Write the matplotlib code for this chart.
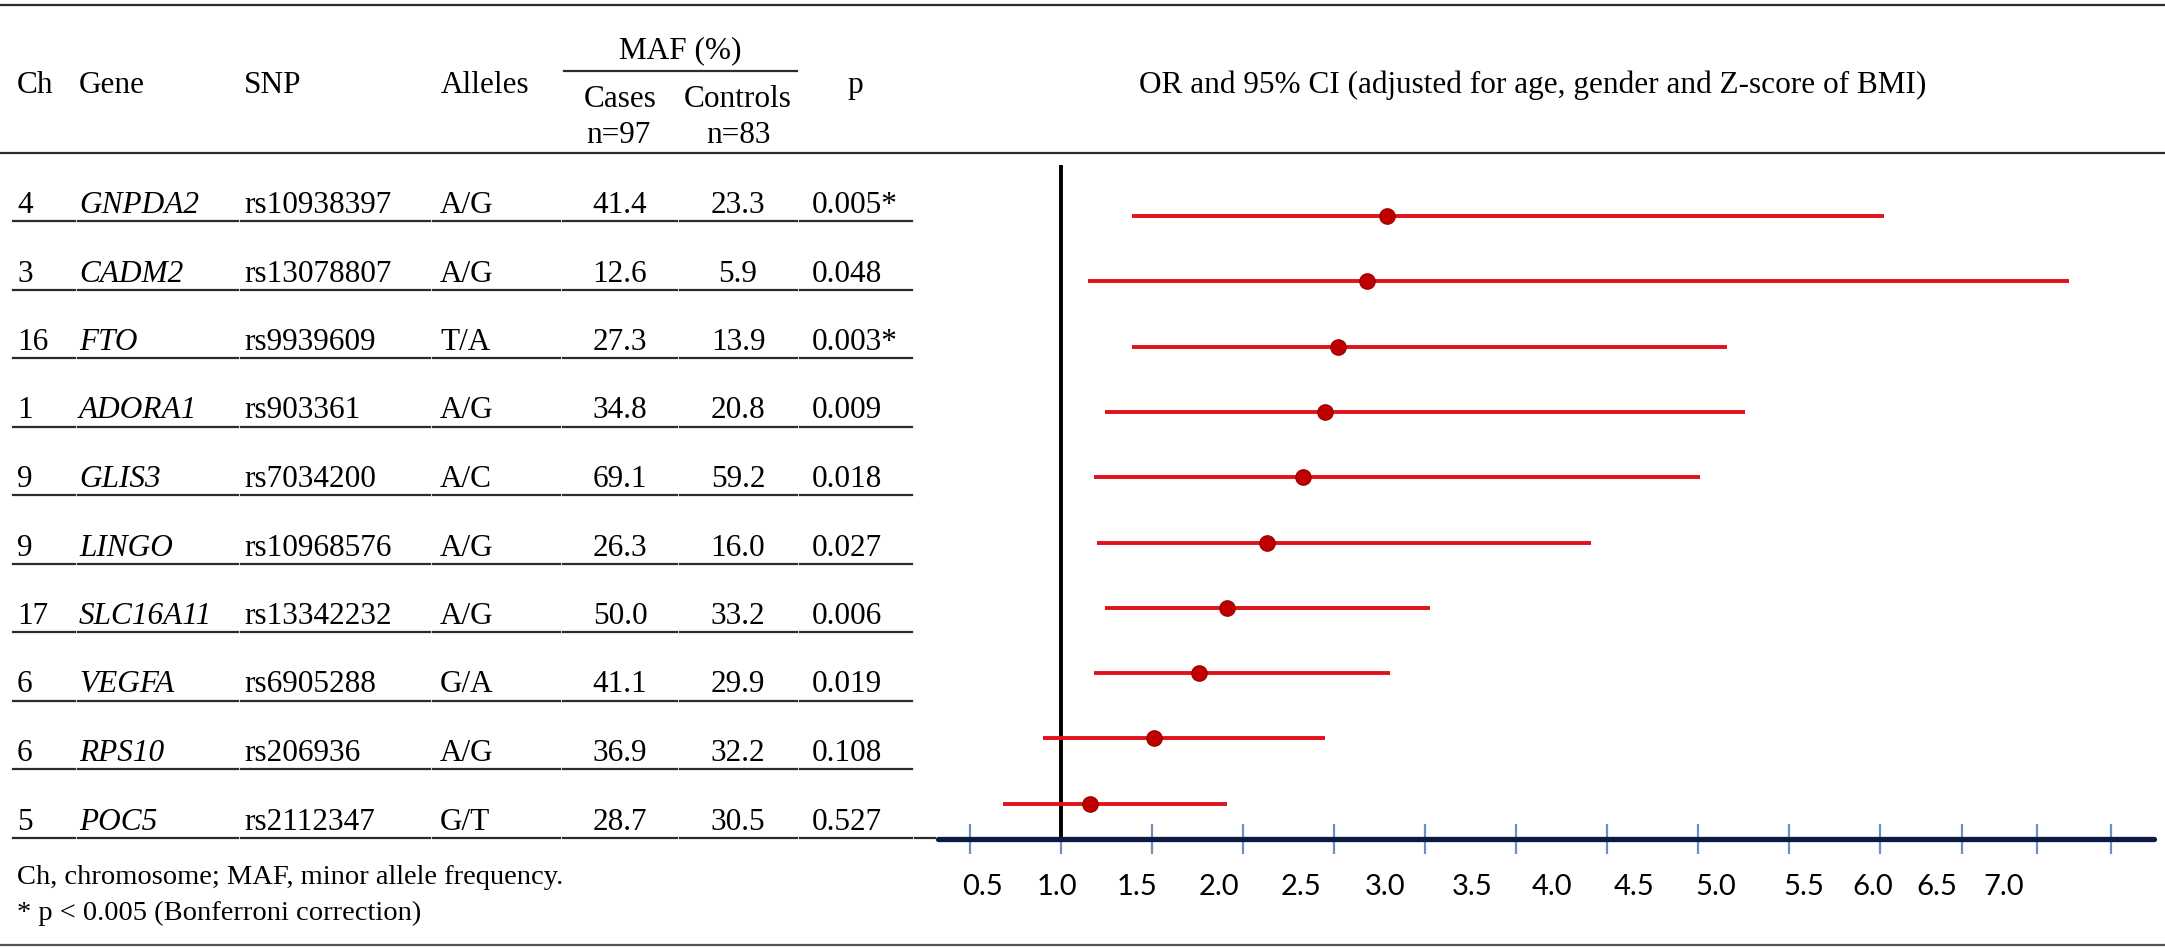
import matplotlib
matplotlib.use("Agg")
import matplotlib.pyplot as plt
from matplotlib.transforms import blended_transform_factory

# table data
chrom = ["4", "3", "16", "1", "9", "9", "17", "6", "6", "5"]
genes = ["GNPDA2", "CADM2", "FTO", "ADORA1", "GLIS3", "LINGO", "SLC16A11", "VEGFA", "RPS10", "POC5"]
snps = ["rs10938397", "rs13078807", "rs9939609", "rs903361", "rs7034200",
        "rs10968576", "rs13342232", "rs6905288", "rs206936", "rs2112347"]
alleles = ["A/G", "A/G", "T/A", "A/G", "A/C", "A/G", "A/G", "G/A", "A/G", "G/T"]
maf_cases = [41.4, 12.6, 27.3, 34.8, 69.1, 26.3, 50.0, 41.1, 36.9, 28.7]
maf_controls = [23.3, 5.9, 13.9, 20.8, 59.2, 16.0, 33.2, 29.9, 32.2, 30.5]
p_values = ["0.005*", "0.048", "0.003*", "0.009", "0.018", "0.027", "0.006", "0.019", "0.108", "0.527"]

# odds ratios and 95% CI
or_est = [2.79, 2.68, 2.52, 2.45, 2.33, 2.13, 1.91, 1.76, 1.51, 1.16]
ci_low = [1.39, 1.15, 1.39, 1.24, 1.18, 1.20, 1.24, 1.18, 0.90, 0.68]
ci_high = [5.52, 6.54, 4.66, 4.76, 4.51, 3.91, 3.03, 2.81, 2.45, 1.91]

tick_labels = ["0.5", "1.0", "1.5", "2.0", "2.5", "3.0", "3.5",
               "4.0", "4.5", "5.0", "5.5", "6.0", "6.5", "7.0"]

W, H = 2165, 949
SERIF = "Liberation Serif"
FS = 22.5
LINE = "#2b2b2b"

fig = plt.figure(figsize=(W / 100, H / 100), dpi=100)

# background axes in pixel coordinates for the table
bg = fig.add_axes([0, 0, 1, 1])
bg.set_xlim(0, W)
bg.set_ylim(H, 0)
bg.axis("off")

txt = dict(family=SERIF, fontsize=FS, color="black", va="baseline")

# header
bg.plot([0, W], [5, 5], color=LINE, lw=1.6)
bg.plot([0, W], [153, 153], color=LINE, lw=1.6)
bg.text(17, 93, "Ch", ha="left", **txt)
bg.text(79, 93, "Gene", ha="left", **txt)
bg.text(244, 93, "SNP", ha="left", **txt)
bg.text(441, 93, "Alleles", ha="left", **txt)
bg.text(680, 58, "MAF (%)", ha="center", **txt)
bg.plot([564, 797], [71, 71], color=LINE, lw=1.6)
bg.text(620, 107, "Cases", ha="center", **txt)
bg.text(618, 143, "n=97", ha="center", **txt)
bg.text(738, 107, "Controls", ha="center", **txt)
bg.text(738, 143, "n=83", ha="center", **txt)
bg.text(855, 93, "p", ha="center", **txt)
bg.text(1533, 93, "OR and 95% CI (adjusted for age, gender and Z-score of BMI)",
        ha="center", **txt)

# rows
row_step = 68.5
segments = [(13, 75), (78, 238), (241, 430), (433, 560), (563, 677), (680, 797), (800, 912)]
for i in range(len(genes)):
    y_line = 221 + row_step * i
    y_txt = y_line - 8
    bg.text(17, y_txt, chrom[i], ha="left", **txt)
    bg.text(79, y_txt, genes[i], ha="left", style="italic", **txt)
    bg.text(244, y_txt, snps[i], ha="left", **txt)
    bg.text(440, y_txt, alleles[i], ha="left", **txt)
    bg.text(620, y_txt, f"{maf_cases[i]:.1f}", ha="center", **txt)
    bg.text(738, y_txt, f"{maf_controls[i]:.1f}", ha="center", **txt)
    bg.text(812, y_txt, p_values[i], ha="left", **txt)
    for x0, x1 in segments:
        bg.plot([x0, x1], [y_line, y_line], color=LINE, lw=1.6)
    if i == len(genes) - 1:
        bg.plot([915, 935], [y_line, y_line], color=LINE, lw=1.6)

# footnotes
foot = dict(txt, fontsize=20.5)
bg.text(17, 884, "Ch, chromosome; MAF, minor allele frequency.", ha="left", **foot)
bg.text(17, 920, "* p < 0.005 (Bonferroni correction)", ha="left", **foot)
bg.plot([0, W], [945, 945], color="#555555", lw=1.6)

# forest plot axes
px_per_unit = 182.0
x_one = 1061
ax_left, ax_right = 938, 2154
ax_top, ax_bot = 165, 839
row0, row_gap = 216, 65.3

ax = fig.add_axes([ax_left / W, 1 - ax_bot / H,
                   (ax_right - ax_left) / W, (ax_bot - ax_top) / H])
ax.set_xlim(1 + (ax_left - x_one) / px_per_unit, 1 + (ax_right - x_one) / px_per_unit)
ax.set_ylim((ax_bot - row0) / row_gap, (ax_top - row0) / row_gap)
ax.patch.set_alpha(0)

rows = list(range(len(genes)))
ax.hlines(rows, ci_low, ci_high, color="#e0121a", lw=2.8, zorder=3)
ax.plot(or_est, rows, "o", color="#c00000", markeredgecolor="#a00000",
        markersize=11, zorder=4)
ax.axvline(1.0, color="black", lw=2.8, zorder=2)

for side in ["top", "right", "left"]:
    ax.spines[side].set_visible(False)
ax.spines["bottom"].set_color("#0b1a45")
ax.spines["bottom"].set_linewidth(3.8)
ax.spines["bottom"].set_capstyle("round")

# tick marks (the axis in the picture has compressed ticks at the right end)
tick_pos = [0.5, 1.0, 1.5, 2.0, 2.5, 3.0, 3.5, 4.0, 4.5, 5.0, 5.5, 5.95, 6.36, 6.77]
label_pos = [0.57, 0.98, 1.42, 1.87, 2.32, 2.78, 3.26, 3.70, 4.15, 4.60, 5.08, 5.46, 5.81, 6.18]
ax.set_xticks(tick_pos)
ax.set_xticklabels([])
ax.tick_params(axis="x", direction="inout", length=22, width=1.6, color="#6f8fbf")
ax.set_yticks([])

trans = blended_transform_factory(ax.transData, fig.transFigure)
for pos, lab in zip(label_pos, tick_labels):
    ax.text(pos, 1 - 887 / H, lab, transform=trans, ha="center", va="center",
            family="Lato", fontsize=21, color="black")

fig.savefig("out.png", dpi=100)
